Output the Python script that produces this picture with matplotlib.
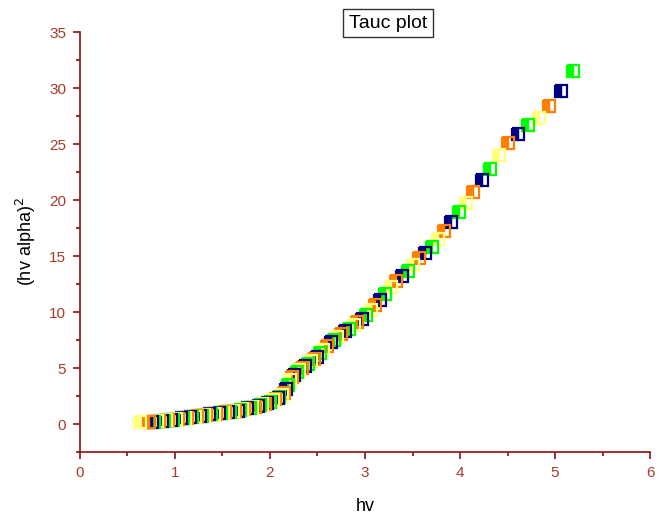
import matplotlib
matplotlib.use('Agg')
import matplotlib.pyplot as plt
from matplotlib.ticker import MultipleLocator

plt.rcParams['font.family'] = ['Liberation Sans', 'DejaVu Sans']

# photon energy (eV), highest first (order the points are drawn in)
hv = [5.19, 5.06, 4.94, 4.83, 4.72, 4.61, 4.50, 4.41, 4.32, 4.23,
      4.14, 4.06, 3.99, 3.91, 3.83, 3.77, 3.70, 3.63, 3.57, 3.50,
      3.45, 3.39, 3.33, 3.27, 3.21, 3.16, 3.11, 3.06, 3.01, 2.97,
      2.92, 2.88, 2.83, 2.79, 2.75, 2.71, 2.67, 2.64, 2.60,
      2.56, 2.53, 2.49, 2.46, 2.43, 2.40, 2.37, 2.34, 2.31, 2.28,
      2.25, 2.23, 2.21, 2.19, 2.17, 2.15, 2.13, 2.10, 2.08, 2.05,
      2.03, 2.00,
      1.97, 1.95, 1.92, 1.89, 1.87, 1.84, 1.81, 1.79, 1.76, 1.73,
      1.71, 1.68, 1.66, 1.63, 1.61, 1.58, 1.56, 1.53, 1.51, 1.48,
      1.46, 1.43, 1.41, 1.38, 1.36, 1.33, 1.31, 1.28, 1.26, 1.23,
      1.21, 1.18, 1.16, 1.13, 1.11, 1.08, 1.06, 1.03, 1.01, 0.98,
      0.96, 0.93, 0.91, 0.88, 0.86, 0.83, 0.81, 0.78, 0.76, 0.73,
      0.63]

# (hv*alpha)^2
hv_alpha_sq = [31.5, 29.7, 28.4, 27.3, 26.7, 25.9, 25.1, 24.0, 22.8, 21.8,
               20.7, 19.7, 18.9, 18.0, 17.2, 16.5, 15.8, 15.3, 14.8, 14.2,
               13.7, 13.2, 12.8, 12.2, 11.6, 11.1, 10.6, 10.2, 9.7, 9.4,
               9.1, 8.8, 8.5, 8.3, 8.0, 7.8, 7.5, 7.3, 7.0,
               6.6, 6.3, 6.0, 5.8, 5.6, 5.4, 5.2, 5.0, 4.8, 4.6,
               4.4, 4.2, 3.9, 3.5, 3.1, 2.8, 2.6, 2.4, 2.3, 2.2,
               2.1, 2.0,
               1.9, 1.8, 1.75, 1.7, 1.6, 1.55, 1.5, 1.45, 1.4, 1.35,
               1.3, 1.25, 1.2, 1.2, 1.15, 1.1, 1.1, 1.05, 1.0, 1.0,
               0.95, 0.9, 0.9, 0.85, 0.85, 0.8, 0.8, 0.75, 0.7, 0.7,
               0.65, 0.65, 0.6, 0.55, 0.55, 0.5, 0.5, 0.45, 0.45, 0.4,
               0.4, 0.35, 0.35, 0.3, 0.3, 0.25, 0.25, 0.2, 0.2, 0.18,
               0.18]

# colour increments point by point, like Origin's colour mapping
point_colors = ['#00FF00', '#000080', '#FF8000', '#FFFF80']
AXIS_COLOR = '#8B1010'
LABEL_COLOR = '#A83A2A'

fig = plt.figure(figsize=(6.66, 5.18), dpi=100)
ax = fig.add_axes([0.1201, 0.1274, 0.8559, 0.8108])

for i, (x, y) in enumerate(zip(hv, hv_alpha_sq)):
    c = point_colors[i % len(point_colors)]
    ax.plot([x], [y], marker='s', linestyle='none', markersize=8.5,
            fillstyle='left', markerfacecolor=c, markerfacecoloralt='none',
            markeredgecolor=c, markeredgewidth=1.6)

ax.set_xlim(0, 6)
ax.set_ylim(-2.5, 35)
ax.xaxis.set_major_locator(MultipleLocator(1))
ax.xaxis.set_minor_locator(MultipleLocator(0.5))
ax.yaxis.set_major_locator(MultipleLocator(5))
ax.yaxis.set_minor_locator(MultipleLocator(2.5))

for side in ['top', 'right']:
    ax.spines[side].set_visible(False)
for side in ['left', 'bottom']:
    ax.spines[side].set_color(AXIS_COLOR)
    ax.spines[side].set_linewidth(1.2)

ax.tick_params(which='major', direction='out', length=5, width=1.2,
               color=AXIS_COLOR, labelcolor=LABEL_COLOR, labelsize=11, pad=5)
ax.tick_params(which='minor', direction='out', length=3, width=1.2,
               color=AXIS_COLOR)

ax.set_xlabel('hv', fontsize=13, labelpad=13)
ax.set_ylabel('(hv alpha)$^2$', fontsize=13, labelpad=8)

fig.text(388 / 666, 1 - 23 / 518, 'Tauc plot', fontsize=14,
         ha='center', va='center',
         bbox=dict(boxstyle='square,pad=0.3', facecolor='white',
                   edgecolor='#333333', linewidth=1))

fig.savefig('out.png', dpi=100)
